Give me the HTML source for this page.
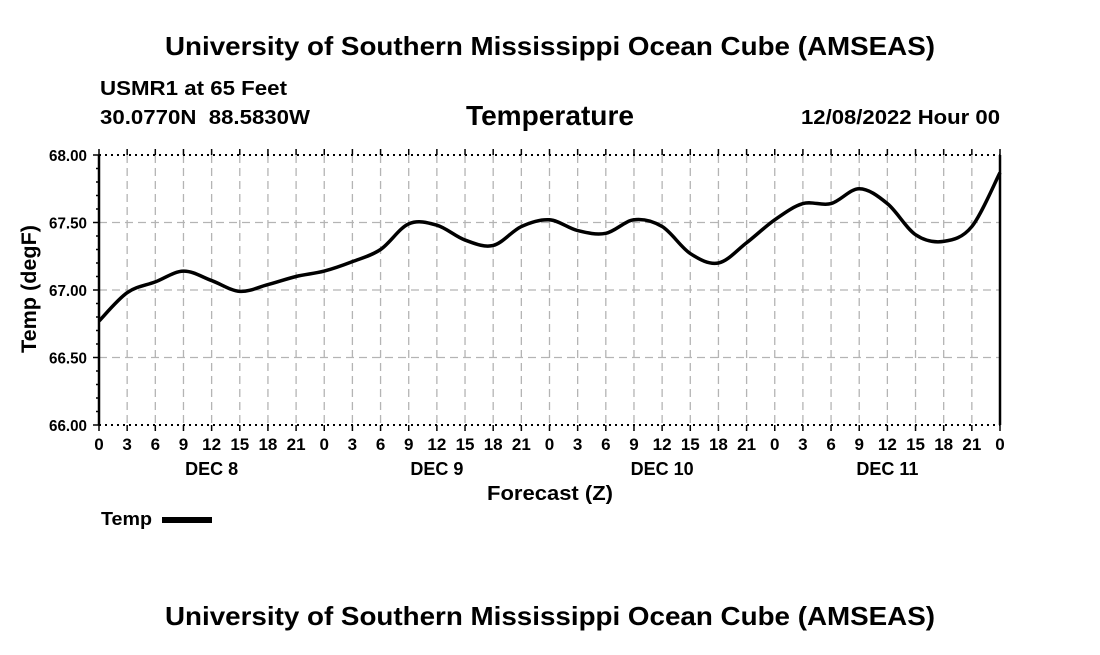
<!DOCTYPE html>
<html><head><meta charset="utf-8"><style>
body{margin:0;background:#fff;}
svg text{font-family:"Liberation Sans",sans-serif;font-weight:bold;fill:#000;}
</style></head><body>
<svg id="chart" width="1100" height="650" xmlns="http://www.w3.org/2000/svg">
<rect width="1100" height="650" fill="#fff"/>
<text x="165" y="55" font-size="26" textLength="770" lengthAdjust="spacingAndGlyphs">University of Southern Mississippi Ocean Cube (AMSEAS)</text>
<text x="100" y="95" font-size="20" textLength="187" lengthAdjust="spacingAndGlyphs">USMR1 at 65 Feet</text>
<text x="100" y="124" font-size="20" textLength="210" lengthAdjust="spacingAndGlyphs" xml:space="preserve">30.0770N  88.5830W</text>
<text x="466" y="125" font-size="28" textLength="168" lengthAdjust="spacingAndGlyphs">Temperature</text>
<text x="801" y="124" font-size="20" textLength="199" lengthAdjust="spacingAndGlyphs">12/08/2022 Hour 00</text>
<text x="0" y="0" font-size="21" text-anchor="middle" textLength="128" lengthAdjust="spacingAndGlyphs" transform="translate(36,289) rotate(-90)">Temp (degF)</text>
<text x="487" y="500" font-size="20" textLength="126" lengthAdjust="spacingAndGlyphs">Forecast (Z)</text>
<text x="101" y="525" font-size="18" textLength="51" lengthAdjust="spacingAndGlyphs">Temp</text>
<rect x="162" y="517" width="50" height="6" fill="#000"/>
<text x="165" y="625" font-size="26" textLength="770" lengthAdjust="spacingAndGlyphs">University of Southern Mississippi Ocean Cube (AMSEAS)</text>
<g id="plot"></g>
</svg>
<script>
const hours = [0,3,6,9,12,15,18,21,24,27,30,33,36,39,42,45,48,51,54,57,60,63,66,69,72,75,78,81,84,87,90,93,96];
const temps = [66.77,66.98,67.06,67.14,67.07,66.99,67.04,67.10,67.14,67.21,67.30,67.49,67.48,67.37,67.33,67.47,67.52,67.44,67.42,67.52,67.47,67.27,67.20,67.35,67.52,67.64,67.64,67.75,67.64,67.41,67.36,67.47,67.87];
const yTicks = [66.00,66.50,67.00,67.50,68.00];
const xTickLabels = ["0","3","6","9","12","15","18","21"];
const dayLabels = ["DEC 8","DEC 9","DEC 10","DEC 11"];

const X0=99,X1=1000,Y0=425,Y1=155,HMAX=96,TMIN=66,TMAX=68;
const xs=h=>X0+(X1-X0)*h/HMAX;
const ys=v=>Y0-(Y0-Y1)*(v-TMIN)/(TMAX-TMIN);
const NS="http://www.w3.org/2000/svg";
const g=document.getElementById('plot');
function mk(tag,attrs){const e=document.createElementNS(NS,tag);for(const k in attrs)e.setAttribute(k,attrs[k]);g.appendChild(e);return e;}

for(let h=3;h<HMAX;h+=3){
  const e=mk('line',{x1:xs(h),x2:xs(h),y1:Y1,y2:Y0,stroke:'#b4b4b4','stroke-width':1.3,'stroke-dasharray':'8,5'});
  
  
}
yTicks.forEach(v=>{
  if(v>TMIN&&v<TMAX){
    const e=mk('line',{x1:X0,x2:X1,y1:ys(v),y2:ys(v),stroke:'#b4b4b4','stroke-width':1.3,'stroke-dasharray':'8,5'});
    
    
  }
  const t=mk('text',{x:87,y:ys(v)+6,'font-size':16,'text-anchor':'end',textLength:38,lengthAdjust:'spacingAndGlyphs'});
  t.textContent=v.toFixed(2);
  
  
});
for(let i=0;i<=20;i++){
  const v=TMIN+i*0.1;
  const e=mk('line',{x1:X0-(i%5==0?6:3),x2:X0,y1:ys(v),y2:ys(v),stroke:'#000','stroke-width':1.5});
  
  
}
[[X0,Y1,X1,Y1,'2,4'],[X0,Y0,X1,Y0,'2,4']].forEach(a=>{
  const e=mk('line',{x1:a[0],y1:a[1],x2:a[2],y2:a[3],stroke:'#000','stroke-width':2,'stroke-dasharray':a[4]});
  
  
});
[X0,X1].forEach(x=>{
  const e=mk('line',{x1:x,x2:x,y1:Y1,y2:Y0,stroke:'#000','stroke-width':2.5});
  
  
});
for(let h=0;h<=HMAX;h+=3){
  const x=xs(h);
  const e1=mk('line',{x1:x,x2:x,y1:Y1-6,y2:Y1,stroke:'#000','stroke-width':1.5});
  
  
  const e2=mk('line',{x1:x,x2:x,y1:Y0,y2:Y0+6,stroke:'#000','stroke-width':1.5});
  
  
  const t=mk('text',{x:x,y:450,'font-size':17,'text-anchor':'middle'});
  t.textContent=xTickLabels[(h/3)%8];
  
  
}
dayLabels.forEach((d,i)=>{
  const t=mk('text',{x:xs(i*24+12),y:475,'font-size':18,'text-anchor':'middle'});
  t.textContent=d;
  
  
});
const P=hours.map((h,i)=>[xs(h),ys(temps[i])]);
let d='M'+P[0][0]+','+P[0][1];
for(let i=0;i<P.length-1;i++){
  const p0=P[Math.max(i-1,0)],p1=P[i],p2=P[i+1],p3=P[Math.min(i+2,P.length-1)];
  const c1=[p1[0]+(p2[0]-p0[0])/6,p1[1]+(p2[1]-p0[1])/6];
  const c2=[p2[0]-(p3[0]-p1[0])/6,p2[1]-(p3[1]-p1[1])/6];
  d+=` C${c1[0]},${c1[1]} ${c2[0]},${c2[1]} ${p2[0]},${p2[1]}`;
}
const line=mk('path',{d:d,fill:'none',stroke:'#000','stroke-width':3.5,'stroke-linejoin':'round'});


</script>
</body></html>
